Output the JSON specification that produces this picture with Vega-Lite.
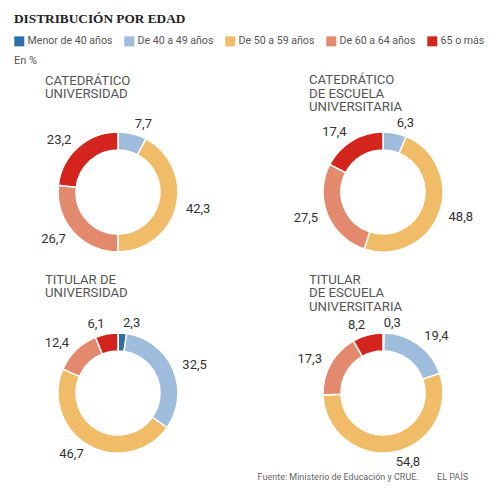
{
  "$schema": "https://vega.github.io/schema/vega-lite/v6.json",
  "background": "white",
  "padding": {"left": 14, "top": 11, "right": 5, "bottom": 5},
  "title": {
    "text": "DISTRIBUCIÓN POR EDAD",
    "anchor": "start",
    "font": "Liberation Serif",
    "fontSize": 13.3,
    "fontWeight": "bold",
    "color": "#222",
    "offset": 11
  },
  "data": {
    "values": [
      {"panel": "cu", "edad": "De 40 a 49 años", "valor": 7.7},
      {"panel": "cu", "edad": "De 50 a 59 años", "valor": 42.3},
      {"panel": "cu", "edad": "De 60 a 64 años", "valor": 26.7},
      {"panel": "cu", "edad": "65 o más", "valor": 23.2},
      {"panel": "ceu", "edad": "De 40 a 49 años", "valor": 6.3},
      {"panel": "ceu", "edad": "De 50 a 59 años", "valor": 48.8},
      {"panel": "ceu", "edad": "De 60 a 64 años", "valor": 27.5},
      {"panel": "ceu", "edad": "65 o más", "valor": 17.4},
      {"panel": "tu", "edad": "Menor de 40 años", "valor": 2.3},
      {"panel": "tu", "edad": "De 40 a 49 años", "valor": 32.5},
      {"panel": "tu", "edad": "De 50 a 59 años", "valor": 46.7},
      {"panel": "tu", "edad": "De 60 a 64 años", "valor": 12.4},
      {"panel": "tu", "edad": "65 o más", "valor": 6.1},
      {"panel": "teu", "edad": "Menor de 40 años", "valor": 0.3},
      {"panel": "teu", "edad": "De 40 a 49 años", "valor": 19.4},
      {"panel": "teu", "edad": "De 50 a 59 años", "valor": 54.8},
      {"panel": "teu", "edad": "De 60 a 64 años", "valor": 17.3},
      {"panel": "teu", "edad": "65 o más", "valor": 8.2}
    ]
  },
  "transform": [
    {"calculate": "indexof(['Menor de 40 años', 'De 40 a 49 años', 'De 50 a 59 años', 'De 60 a 64 años', '65 o más'], datum.edad)", "as": "orden"}
  ],
  "spacing": 17,
  "vconcat": [
    {
      "spacing": 57,
      "hconcat": [
        {
          "width": 208,
          "height": 120,
          "title": {"text": ["CATEDRÁTICO", "UNIVERSIDAD", " "], "dx": 31},
          "transform": [{"filter": "datum.panel == 'cu'"}],
          "encoding": {
            "theta": {"field": "valor", "type": "quantitative", "stack": true},
            "order": {"field": "orden", "type": "quantitative"}
          },
          "layer": [
            {
              "mark": {"type": "arc", "outerRadius": 60, "innerRadius": 42, "stroke": "white", "strokeWidth": 1.5},
              "encoding": {
                "color": {"field": "edad", "type": "nominal", "title": "En %", "scale": {"domain": ["Menor de 40 años", "De 40 a 49 años", "De 50 a 59 años", "De 60 a 64 años", "65 o más"], "range": ["#2c6ea6", "#9ebcdc", "#f0bc68", "#e38a6e", "#d3241e"]}}
              }
            },
            {
              "mark": {"type": "text", "radius": 70, "baseline": "middle", "align": {"expr": "(datum.valor_start + datum.valor_end) / 2 < 50 ? 'left' : 'right'"}},
              "encoding": {"text": {"field": "valor", "type": "quantitative", "format": ".1f"}}
            }
          ]
        },
        {
          "width": 208,
          "height": 120,
          "title": {"text": ["CATEDRÁTICO", "DE ESCUELA", "UNIVERSITARIA"], "dx": 30},
          "transform": [{"filter": "datum.panel == 'ceu'"}],
          "encoding": {
            "theta": {"field": "valor", "type": "quantitative", "stack": true},
            "order": {"field": "orden", "type": "quantitative"}
          },
          "layer": [
            {
              "mark": {"type": "arc", "outerRadius": 60, "innerRadius": 42, "stroke": "white", "strokeWidth": 1.5},
              "encoding": {
                "color": {"field": "edad", "type": "nominal", "title": "En %", "scale": {"domain": ["Menor de 40 años", "De 40 a 49 años", "De 50 a 59 años", "De 60 a 64 años", "65 o más"], "range": ["#2c6ea6", "#9ebcdc", "#f0bc68", "#e38a6e", "#d3241e"]}}
              }
            },
            {
              "mark": {"type": "text", "radius": 70, "baseline": "middle", "align": {"expr": "(datum.valor_start + datum.valor_end) / 2 < 50 ? 'left' : 'right'"}},
              "encoding": {"text": {"field": "valor", "type": "quantitative", "format": ".1f"}}
            }
          ]
        }
      ]
    },
    {
      "spacing": 57,
      "title": {
        "text": "Fuente: Ministerio de Educación y CRUE.\u2003\u2003EL PAÍS",
        "orient": "bottom",
        "anchor": "end",
        "frame": "bounds",
        "fontSize": 9,
        "lineHeight": 10,
        "color": "#666",
        "offset": 4,
        "dx": -19
      },
      "hconcat": [
        {
          "width": 208,
          "height": 120,
          "title": {"text": ["TITULAR DE", "UNIVERSIDAD", " "], "dx": 31},
          "transform": [{"filter": "datum.panel == 'tu'"}],
          "encoding": {
            "theta": {"field": "valor", "type": "quantitative", "stack": true},
            "order": {"field": "orden", "type": "quantitative"}
          },
          "layer": [
            {
              "mark": {"type": "arc", "outerRadius": 60, "innerRadius": 42, "stroke": "white", "strokeWidth": 1.5},
              "encoding": {
                "color": {"field": "edad", "type": "nominal", "title": "En %", "scale": {"domain": ["Menor de 40 años", "De 40 a 49 años", "De 50 a 59 años", "De 60 a 64 años", "65 o más"], "range": ["#2c6ea6", "#9ebcdc", "#f0bc68", "#e38a6e", "#d3241e"]}}
              }
            },
            {
              "mark": {"type": "text", "radius": 70, "baseline": "middle", "align": {"expr": "(datum.valor_start + datum.valor_end) / 2 < 50 ? 'left' : 'right'"}},
              "encoding": {"text": {"field": "valor", "type": "quantitative", "format": ".1f"}}
            }
          ]
        },
        {
          "width": 208,
          "height": 120,
          "title": {"text": ["TITULAR", "DE ESCUELA", "UNIVERSITARIA"], "dx": 30},
          "transform": [{"filter": "datum.panel == 'teu'"}],
          "encoding": {
            "theta": {"field": "valor", "type": "quantitative", "stack": true},
            "order": {"field": "orden", "type": "quantitative"}
          },
          "layer": [
            {
              "mark": {"type": "arc", "outerRadius": 60, "innerRadius": 42, "stroke": "white", "strokeWidth": 1.5},
              "encoding": {
                "color": {"field": "edad", "type": "nominal", "title": "En %", "scale": {"domain": ["Menor de 40 años", "De 40 a 49 años", "De 50 a 59 años", "De 60 a 64 años", "65 o más"], "range": ["#2c6ea6", "#9ebcdc", "#f0bc68", "#e38a6e", "#d3241e"]}}
              }
            },
            {
              "mark": {"type": "text", "radius": 70, "baseline": "middle", "align": {"expr": "(datum.valor_start + datum.valor_end) / 2 < 50 ? 'left' : 'right'"}},
              "encoding": {"text": {"field": "valor", "type": "quantitative", "format": ".1f"}}
            }
          ]
        }
      ]
    }
  ],
  "resolve": {"scale": {"color": "shared"}},
  "config": {
    "locale": {"number": {"decimal": ",", "thousands": ".", "grouping": [3], "currency": ["", " €"]}},
    "font": "Roboto",
    "view": {"stroke": null},
    "text": {"font": "Roboto", "fontSize": 13, "color": "#333"},
    "title": {"font": "Roboto", "fontSize": 13.2, "fontWeight": "normal", "color": "#555", "anchor": "start", "frame": "group", "lineHeight": 13.5, "offset": 3},
    "legend": {
      "orient": "top",
      "direction": "horizontal",
      "offset": 7,
      "symbolType": "square",
      "symbolSize": 100,
      "symbolStrokeWidth": 0,
      "labelFont": "Roboto",
      "labelFontSize": 10.6,
      "labelColor": "#555",
      "labelOffset": 3,
      "columnPadding": 11,
      "titleOrient": "bottom",
      "titleAnchor": "start",
      "titleFont": "Roboto",
      "titleFontSize": 11,
      "titleFontWeight": "normal",
      "titleColor": "#555",
      "titlePadding": 8
    }
  }
}
